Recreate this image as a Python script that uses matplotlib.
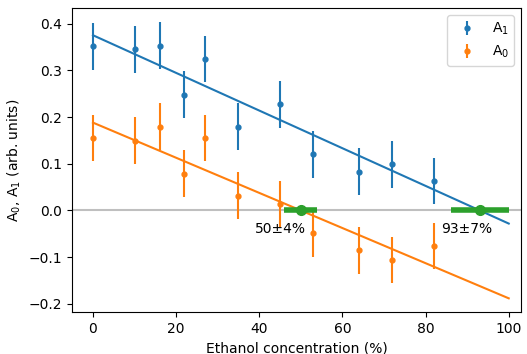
import numpy as np
import matplotlib
matplotlib.use("Agg")
import matplotlib.pyplot as plt

# ── Data ─────────────────────────────────────────────────────────────────────
conc = [0, 10, 16, 22, 27, 35, 45, 53, 64, 72, 82]
a1 = [0.351, 0.345, 0.353, 0.248, 0.324, 0.179, 0.227, 0.120, 0.083, 0.099, 0.063]
a0 = [0.155, 0.149, 0.179, 0.079, 0.155, 0.032, 0.014, -0.049, -0.085, -0.106, -0.076]
a_err = 0.05

# linear fits: intercept, slope
fit_a1 = (0.375, -0.00403)
fit_a0 = (0.188, -0.00376)
fit_x = [0, 100]

# zero crossings with uncertainty (%)
cross = [50, 93]
cross_err = [4, 7]
label_x = [45, 90]

# ── Plot ─────────────────────────────────────────────────────────────────────
fig = plt.figure(figsize=(5.27, 3.54), dpi=100)
ax = fig.add_axes([0.137, 0.119, 0.852, 0.858])

ax.axhline(0, color="0.75", lw=1.5, zorder=0)

ax.errorbar(conc, a1, yerr=a_err, fmt="o", ms=3.5, color="C0", label="A$_1$")
ax.errorbar(conc, a0, yerr=a_err, fmt="o", ms=3.5, color="C1", label="A$_0$")

fx = np.array(fit_x)
ax.plot(fx, fit_a1[0] + fit_a1[1] * fx, color="C0", lw=1.5)
ax.plot(fx, fit_a0[0] + fit_a0[1] * fx, color="C1", lw=1.5)

for c, e, lx in zip(cross, cross_err, label_x):
    ax.plot([c - e, c + e], [0, 0], color="C2", lw=4, solid_capstyle="butt", zorder=3)
    ax.plot(c, 0, "o", color="C2", ms=7, zorder=4)
    ax.text(lx, -0.04, f"{c}±{e}%", ha="center", va="center", fontsize=10)

ax.set_xlim(-5, 103)
ax.set_ylim(-0.217, 0.433)
ax.set_xticks([0, 20, 40, 60, 80, 100])
ax.set_yticks([-0.2, -0.1, 0.0, 0.1, 0.2, 0.3, 0.4])
ax.set_xlabel("Ethanol concentration (%)")
ax.set_ylabel("A$_0$, A$_1$ (arb. units)")
ax.legend(loc="upper right")

fig.savefig("out.png", dpi=100)
